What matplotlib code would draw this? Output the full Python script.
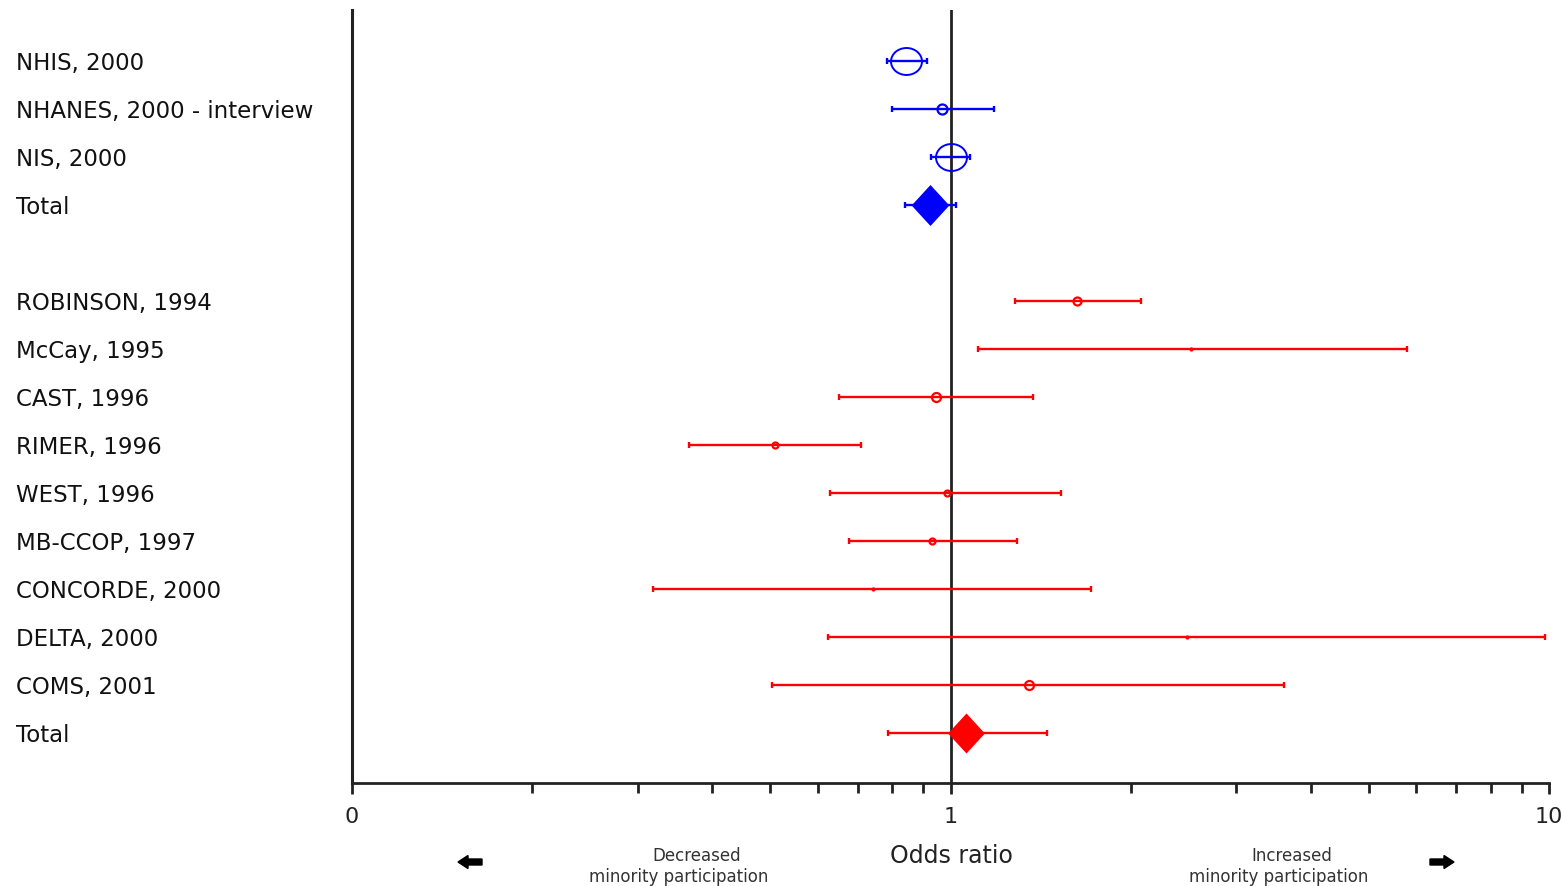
import matplotlib
matplotlib.use("Agg")
import matplotlib.pyplot as plt
from matplotlib.path import Path
from matplotlib.markers import MarkerStyle
from matplotlib.transforms import Affine2D
from matplotlib.patches import FancyArrow
import numpy as np

plt.rcParams['font.family'] = ['DejaVu Sans']

# ---- data ----
studies = ["NHIS, 2000", "NHANES, 2000 - interview", "NIS, 2000", "Total",
           "ROBINSON, 1994", "McCay, 1995", "CAST, 1996", "RIMER, 1996",
           "WEST, 1996", "MB-CCOP, 1997", "CONCORDE, 2000", "DELTA, 2000",
           "COMS, 2001", "Total"]
odds = [0.844, 0.966, 1.000, 0.923,
        1.63, 2.52, 0.944, 0.510, 0.985, 0.933, 0.741, 2.48, 1.35, 1.06]
ci_low = [0.782, 0.797, 0.926, 0.841,
          1.284, 1.11, 0.650, 0.365, 0.628, 0.676, 0.318, 0.625, 0.504, 0.785]
ci_high = [0.915, 1.18, 1.076, 1.023,
           2.08, 5.78, 1.376, 0.710, 1.532, 1.29, 1.714, 9.83, 3.61, 1.45]
group = ["survey"] * 4 + ["trial"] * 10
is_total = [False, False, False, True] + [False] * 9 + [True]
row_pos = [0, 1, 2, 3, 5, 6, 7, 8, 9, 10, 11, 12, 13, 14]
tick_vals = [0.1, 1, 10]
tick_labels = ["0", "1", "10"]

# ---- styles ----
group_color = {"survey": "#0000ff", "trial": "#ff0000"}
marker_px = [31, 10, 31, 41, 8, 2, 9, 6, 6, 6, 2, 2, 9, 40]

W, H = 1562, 886
fig = plt.figure(figsize=(W / 100, H / 100), dpi=100)
L, R, B, T = 352, 1549, 783, 10
ax = fig.add_axes([L / W, 1 - B / H, (R - L) / W, (B - T) / H])

ax.set_xscale('log')
ax.set_xlim(0.1, 10)
ax.set_ylim(15.04, -1.0625)

circ = Path.unit_circle()
ellipse = MarkerStyle(circ.transformed(Affine2D().scale(1.0, 0.87)))
diamond = MarkerStyle(Path([(0, 1), (0.92, 0), (0, -1), (-0.92, 0), (0, 1)],
                           [Path.MOVETO, Path.LINETO, Path.LINETO, Path.LINETO, Path.CLOSEPOLY]))

for i, name in enumerate(studies):
    y = row_pos[i]
    c = group_color[group[i]]
    ax.errorbar(odds[i], y, xerr=[[odds[i] - ci_low[i]], [ci_high[i] - odds[i]]],
                fmt='none', ecolor=c, elinewidth=1.7, capsize=2.5, capthick=1.7, zorder=3)
    ms = marker_px[i] * 0.72
    if is_total[i]:
        ax.plot(odds[i], y, marker=diamond, ms=ms, color=c, mec=c, mew=0, zorder=4)
    elif marker_px[i] > 20:
        ax.plot(odds[i], y, marker=ellipse, ms=ms, mfc='none', mec=c, mew=1.4, zorder=4)
    else:
        ax.plot(odds[i], y, marker='o', ms=ms, mfc='none', mec=c, mew=1.6, zorder=4)
    ax.text(-0.2807, y, name, transform=ax.get_yaxis_transform(),
            ha='left', va='center_baseline', fontsize=16.5, color='#111111')

ax.axvline(1, color='#222222', lw=2.0, zorder=2)

for s in ['top', 'right']:
    ax.spines[s].set_visible(False)
ax.spines['left'].set_linewidth(2.2)
ax.spines['bottom'].set_linewidth(2.0)
ax.spines['left'].set_color('#222222')
ax.spines['bottom'].set_color('#222222')
ax.set_yticks([])
ax.set_xticks(tick_vals)
ax.set_xticklabels(tick_labels, fontsize=16)
ax.tick_params(axis='x', which='major', length=8, width=2, direction='out', pad=9, colors='#222222')
ax.tick_params(axis='x', which='minor', length=7, width=2, direction='out', colors='#222222')
ax.xaxis.set_minor_formatter(matplotlib.ticker.NullFormatter())

fig.text(951 / W, 1 - 856 / H, "Odds ratio", ha='center', va='center', fontsize=17, color='#222222')
small = dict(ha='center', va='center', fontsize=12, color='#333333')
fig.text(697 / W, 1 - 856 / H, "Decreased", **small)
fig.text(679 / W, 1 - 877 / H, "minority participation", **small)
fig.text(1292 / W, 1 - 856 / H, "Increased", **small)
fig.text(1279 / W, 1 - 877 / H, "minority participation", **small)

tr = fig.dpi_scale_trans
fig.patches.append(FancyArrow(4.82, (H - 862) / 100, -0.24, 0, width=0.06, head_width=0.13,
                              head_length=0.1, length_includes_head=True, color='black', transform=tr))
fig.patches.append(FancyArrow(14.30, (H - 862) / 100, 0.24, 0, width=0.06, head_width=0.13,
                              head_length=0.1, length_includes_head=True, color='black', transform=tr))

fig.savefig("out.png", dpi=100)
